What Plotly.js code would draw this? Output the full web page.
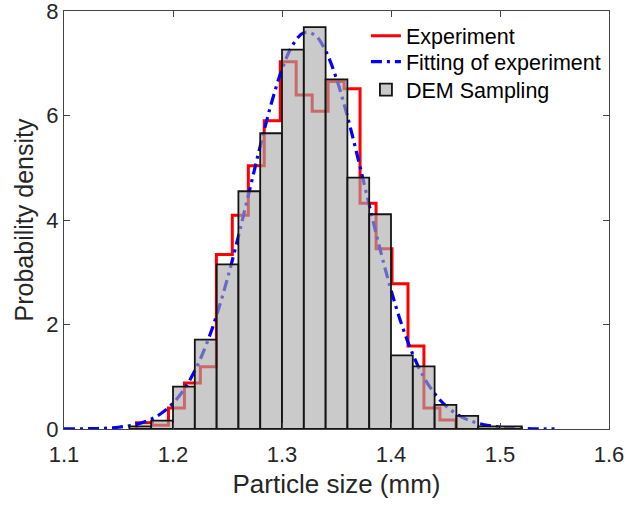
<!DOCTYPE html>
<html>
<head>
<meta charset="utf-8">
<script src="https://cdn.plot.ly/plotly-3.0.1.min.js"></script>
<style>html,body{margin:0;padding:0;background:#fff;}#chart{width:628px;height:506px;}</style>
</head>
<body>
<div id="chart"></div>
<script>
// Experiment histogram (stairs): bin edges and probability densities
const expEdges = [1.1665, 1.1812, 1.1958, 1.2105, 1.2251, 1.2398, 1.2544, 1.2691, 1.2837, 1.2984, 1.3130,
                  1.3277, 1.3423, 1.3570, 1.3716, 1.3863, 1.4009, 1.4156, 1.4302, 1.4449, 1.4595];
const expDensity = [0.12, 0.07, 0.40, 0.88, 1.19, 3.34, 4.09, 5.04, 5.90, 7.03,
                    6.39, 6.08, 6.65, 6.51, 4.32, 3.45, 2.78, 1.59, 0.40, 0.17];

// Fitted curve of experiment
const fitX = [1.10, 1.11, 1.12, 1.13, 1.14, 1.15, 1.16, 1.17, 1.18, 1.19, 1.20, 1.21, 1.22, 1.23, 1.24, 1.25,
              1.26, 1.27, 1.28, 1.29, 1.30, 1.31, 1.32, 1.33, 1.34, 1.35, 1.36, 1.37, 1.38, 1.39, 1.40, 1.41,
              1.42, 1.43, 1.44, 1.45, 1.46, 1.47, 1.48, 1.49, 1.50, 1.51, 1.52, 1.53, 1.54, 1.55];
const fitY = [0.001, 0.002, 0.005, 0.009, 0.018, 0.034, 0.063, 0.111, 0.189, 0.311, 0.493, 0.754, 1.113, 1.585, 2.177, 2.884,
              3.688, 4.549, 5.413, 6.215, 6.883, 7.355, 7.583, 7.542, 7.237, 6.701, 5.984, 5.157, 4.287, 3.438, 2.661, 1.986,
              1.430, 0.994, 0.680, 0.450, 0.290, 0.180, 0.110, 0.065, 0.035, 0.020, 0.010, 0.005, 0.002, 0.001];

// DEM sampling histogram: bin edges and probability densities
const demEdges = [1.16, 1.18, 1.20, 1.22, 1.24, 1.26, 1.28, 1.30, 1.32, 1.34, 1.36, 1.38, 1.40, 1.42, 1.44, 1.46, 1.48, 1.50, 1.52];
const demDensity = [0.05, 0.16, 0.81, 1.71, 3.15, 4.55, 5.66, 7.26, 7.69, 6.69, 4.81, 4.11, 1.41, 1.20, 0.46, 0.25, 0.05, 0.05];

// Axis ticks
const xTicks = [1.1, 1.2, 1.3, 1.4, 1.5, 1.6];
const xTickText = ['1.1', '1.2', '1.3', '1.4', '1.5', '1.6'];
const yTicks = [0, 2, 4, 6, 8];

// stairs outline from edges/values
const stX = [expEdges[0]], stY = [0];
for (let i = 0; i < expDensity.length; i++) { stX.push(expEdges[i]); stY.push(expDensity[i]); }
stX.push(expEdges[expEdges.length - 1]); stY.push(expDensity[expDensity.length - 1]);
stX.push(expEdges[expEdges.length - 1]); stY.push(0);

const demCenters = [], demWidths = [];
for (let i = 0; i < demDensity.length; i++) {
  demCenters.push((demEdges[i] + demEdges[i + 1]) / 2);
  demWidths.push(demEdges[i + 1] - demEdges[i]);
}

const FONT = 'Arial, "Liberation Sans", Helvetica, sans-serif';
const TXT = '#262626';

const traces = [
  {
    type: 'scatter', mode: 'lines', name: 'Experiment', legend: 'legend',
    x: stX, y: stY, line: {shape: 'hv', color: '#ff0000', width: 3},
    xaxis: 'x', yaxis: 'y'
  },
  {
    type: 'scatter', mode: 'lines', name: 'Fitting of experiment', legend: 'legend2',
    x: fitX, y: fitY, line: {shape: 'spline', color: '#0000ff', width: 3.2, dash: '11px,5px,3px,5px'},
    xaxis: 'x', yaxis: 'y'
  },
  {
    type: 'bar', name: 'DEM Sampling', legend: 'legend3',
    x: demCenters, y: demDensity, width: demWidths,
    marker: {color: 'rgba(170,170,170,0.62)', line: {color: '#141414', width: 1.8}},
    xaxis: 'x2', yaxis: 'y2'
  }
];

const axisCommon = {
  showgrid: false, zeroline: false, showline: true, linecolor: '#444', linewidth: 1,
  mirror: 'ticks', ticks: 'inside', ticklen: 6, tickcolor: '#444', tickwidth: 1,
  tickfont: {family: FONT, size: 22, color: TXT},
  ticklabeloverflow: 'allow'
};

function leg(yc) {
  return {
    x: 0.554, y: yc, xanchor: 'left', yanchor: 'middle',
    bgcolor: 'rgba(0,0,0,0)', borderwidth: 0,
    font: {family: FONT, size: 21.5, color: '#000'}
  };
}

const layout = {
  width: 628, height: 506,
  margin: {l: 64, r: 19, t: 11, b: 77},
  paper_bgcolor: '#ffffff', plot_bgcolor: '#ffffff',
  showlegend: true,
  legend: leg(0.941),
  legend2: leg(0.879),
  legend3: leg(0.812),
  xaxis: Object.assign({}, axisCommon, {
    range: [1.1, 1.6], tickvals: xTicks, ticktext: xTickText,
    ticklabelstandoff: 6,
    title: {text: 'Particle size (mm)', font: {family: FONT, size: 26, color: TXT}, standoff: 8}
  }),
  yaxis: Object.assign({}, axisCommon, {
    range: [0, 8], tickvals: yTicks,
    title: {text: 'Probability density', font: {family: FONT, size: 25, color: TXT}, standoff: 5}
  }),
  xaxis2: {overlaying: 'x', range: [1.1, 1.6], visible: false, showgrid: false, zeroline: false},
  yaxis2: {overlaying: 'y', range: [0, 8], visible: false, showgrid: false, zeroline: false},
  bargap: 0
};

Plotly.newPlot('chart', traces, layout, {displayModeBar: false, staticPlot: true});
</script>
</body>
</html>
